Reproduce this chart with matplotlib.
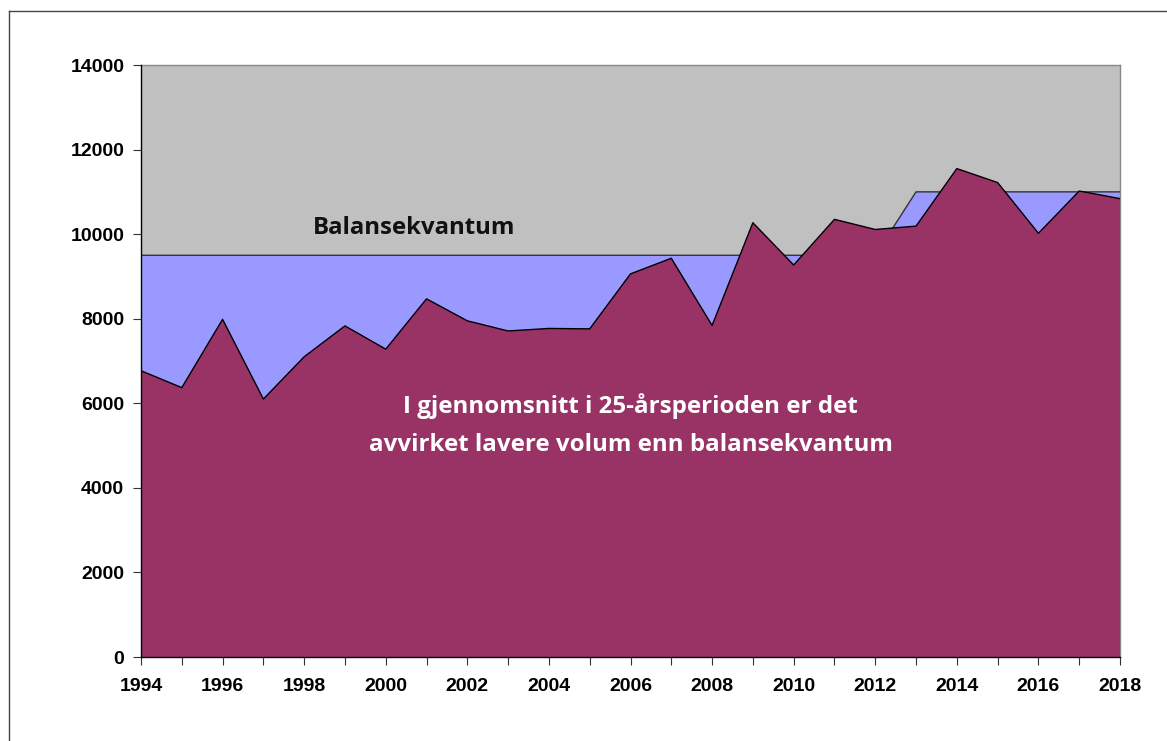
import matplotlib
matplotlib.use("Agg")
import matplotlib.pyplot as plt
from matplotlib.lines import Line2D
from matplotlib import font_manager as fm

years = list(range(1994, 2019))
harvest = [6770, 6370, 7985, 6100, 7100, 7830, 7280, 8470, 7950, 7710,
           7770, 7760, 9060, 9430, 7840, 10270, 9270, 10350, 10110, 10190,
           11550, 11220, 10020, 11020, 10840]
balance = [9500] * 19 + [11000] * 6
ceiling = [14000] * 25
ytick_values = list(range(0, 14001, 2000))

names = {f.name for f in fm.fontManager.ttflist}
tick_font = "Liberation Sans Narrow" if "Liberation Sans Narrow" in names else "Liberation Sans"

W, H = 1167, 741
fig = plt.figure(figsize=(W / 100, H / 100), dpi=100)
ax = fig.add_axes([141 / W, 1 - 657 / H, (1120 - 141) / W, (657 - 65) / H])

ax.fill_between(years, 0, ceiling, facecolor="#C0C0C0", edgecolor="none", zorder=1)
ax.fill_between(years, 0, balance, facecolor="#9999FF", edgecolor="none", zorder=2)
ax.plot(years, balance, color="#333333", lw=1.0, zorder=3)
ax.fill_between(years, 0, harvest, facecolor="#993366", edgecolor="none", zorder=4)
ax.plot(years, harvest, color="black", lw=1.0, zorder=5)

ax.set_xlim(1994, 2018)
ax.set_ylim(0, 14000)
ax.set_xticks(years)
ax.set_xticklabels([str(y) if (y - 1994) % 2 == 0 else "" for y in years])
ax.set_yticks(ytick_values)
ax.set_yticklabels([str(v) for v in ytick_values])
for lab in ax.get_xticklabels() + ax.get_yticklabels():
    lab.set_fontfamily(tick_font)
    lab.set_fontweight("bold")
    lab.set_fontsize(14)
ax.tick_params(axis="both", direction="out", length=6, width=0.8, color="#333333")
ax.tick_params(axis="x", pad=9)
ax.tick_params(axis="y", pad=6)

for s in ["left", "bottom"]:
    ax.spines[s].set_color("black")
    ax.spines[s].set_linewidth(1.0)
    ax.spines[s].set_zorder(6)
for s in ["top", "right"]:
    ax.spines[s].set_color("#888888")
    ax.spines[s].set_linewidth(1.0)

ax.text(2000.69, 10145, "Balansekvantum", ha="center", va="center",
        fontsize=17.3, fontweight="bold", family="Open Sans", color="#111111", zorder=7)
ax.text(2006.0, 5930, "I gjennomsnitt i 25-årsperioden er det", ha="center", va="center",
        fontsize=17.4, fontweight="bold", family="Open Sans", color="white", zorder=7)
ax.text(2006.0, 5010, "avvirket lavere volum enn balansekvantum", ha="center", va="center",
        fontsize=17.4, fontweight="bold", family="Open Sans", color="white", zorder=7)

fig.add_artist(Line2D([9 / W, 9 / W], [0, 1 - 11 / H], transform=fig.transFigure,
                      color="#444444", lw=1.0))
fig.add_artist(Line2D([9 / W, 1], [1 - 11 / H, 1 - 11 / H], transform=fig.transFigure,
                      color="#444444", lw=1.0))

fig.savefig("out.png", dpi=100)
